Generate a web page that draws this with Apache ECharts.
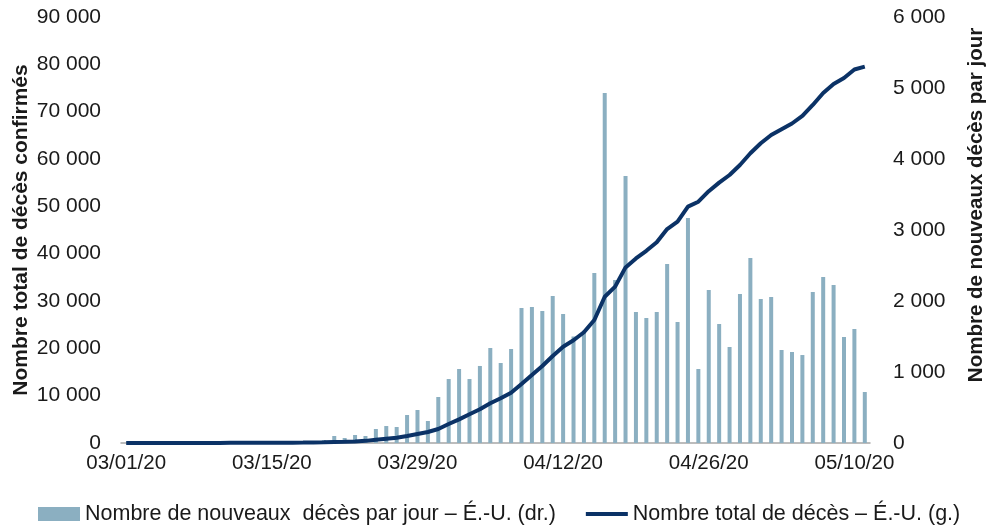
<!DOCTYPE html>
<html>
<head>
<meta charset="utf-8">
<script src="https://cdn.jsdelivr.net/npm/echarts@6/dist/echarts.min.js"></script>
<style>
html,body{margin:0;padding:0;background:#fff;}
#chart{width:1005px;height:532px;}
</style>
</head>
<body>
<div id="chart"></div>
<script>
const categories = [
'03/01/20','03/02/20','03/03/20','03/04/20','03/05/20','03/06/20','03/07/20','03/08/20','03/09/20','03/10/20',
'03/11/20','03/12/20','03/13/20','03/14/20','03/15/20','03/16/20','03/17/20','03/18/20','03/19/20','03/20/20',
'03/21/20','03/22/20','03/23/20','03/24/20','03/25/20','03/26/20','03/27/20','03/28/20','03/29/20','03/30/20',
'03/31/20','04/01/20','04/02/20','04/03/20','04/04/20','04/05/20','04/06/20','04/07/20','04/08/20','04/09/20',
'04/10/20','04/11/20','04/12/20','04/13/20','04/14/20','04/15/20','04/16/20','04/17/20','04/18/20','04/19/20',
'04/20/20','04/21/20','04/22/20','04/23/20','04/24/20','04/25/20','04/26/20','04/27/20','04/28/20','04/29/20',
'04/30/20','05/01/20','05/02/20','05/03/20','05/04/20','05/05/20','05/06/20','05/07/20','05/08/20','05/09/20',
'05/10/20','05/11/20'
];
// Nouveaux décès par jour (axe de droite)
const dailyDeaths = [
0,0,0,0,0,0,0,0,0,0,
1,2,3,5,7,8,12,18,25,40,
99,70,113,99,197,239,225,394,465,310,
648,901,1042,901,1085,1338,1127,1324,1901,1915,
1859,2070,1817,1500,1582,2394,4930,2296,3761,1845,
1761,1845,2521,1704,3169,1042,2155,1676,1352,2099,
2606,2028,2056,1310,1282,1239,2127,2338,2225,1493,
1606,718
];
// Nombre total de décès (axe de gauche)
const totalDeaths = [
1,1,6,9,11,12,15,19,22,26,
30,37,40,45,52,60,70,85,110,140,
200,250,330,450,680,900,1120,1480,1900,2320,
2960,4010,5000,6060,7120,8390,9440,10630,12470,14370,
16270,18380,20350,21700,23400,25990,30910,33030,37100,39000,
40600,42430,45200,46760,49930,50980,53200,55000,56620,58740,
61210,63320,65070,66300,67500,69090,71410,73950,75850,77120,
78910,79510
];
const leftTicks = {min:0, max:90000, interval:10000};
const rightTicks = {min:0, max:6000, interval:1000};
const seriesNames = ['Nombre de nouveaux  décès par jour – É.-U. (dr.)', 'Nombre total de décès – É.-U. (g.)'];

const fmt = v => String(v).replace(/\B(?=(\d{3})+(?!\d))/g, ' ');
const font = 'Liberation Sans, Arial, sans-serif';
const txt = '#1a1a1a';
const lineColor = '#0B3266';

const chart = echarts.init(document.getElementById('chart'));
chart.setOption({
  animation: false,
  textStyle: {fontFamily: font},
  grid: {left: 121, right: 135, top: 17, bottom: 89, containLabel: false, outerBoundsMode: 'none'},
  legend: {
    left: 33, top: 498,
    itemGap: 30, itemWidth: 42, itemHeight: 14,
    textStyle: {fontFamily: font, fontSize: 21.5, color: txt},
    data: [
      {name: seriesNames[0], icon: 'rect'},
      {name: seriesNames[1], icon: 'path://M0,0 L0,0 M0,5 L42,5 L42,9 L0,9 Z M42,14 L42,14'}
    ]
  },
  xAxis: {
    type: 'category',
    data: categories,
    boundaryGap: true,
    axisLine: {lineStyle: {color: '#a6a6a6', width: 1.5}},
    axisTick: {show: false},
    axisLabel: {interval: 13, fontSize: 20.5, color: txt, margin: 10, fontFamily: font}
  },
  yAxis: [
    {
      type: 'value', min: leftTicks.min, max: leftTicks.max, interval: leftTicks.interval,
      name: 'Nombre total de décès confirmés', nameLocation: 'middle', nameGap: 89, nameMoveOverlap: false,
      nameTextStyle: {fontSize: 21, fontWeight: 'bold', color: txt, fontFamily: font},
      axisLine: {show: false}, axisTick: {show: false}, splitLine: {show: false},
      axisLabel: {formatter: fmt, fontSize: 21, color: txt, margin: 20, fontFamily: font}
    },
    {
      type: 'value', min: rightTicks.min, max: rightTicks.max, interval: rightTicks.interval,
      name: 'Nombre de nouveaux décès par jour', nameLocation: 'middle', nameGap: 96, nameMoveOverlap: false,
      nameTextStyle: {fontSize: 20.5, fontWeight: 'bold', color: txt, fontFamily: font, padding: [0, 0, 0, 50]},
      axisLine: {show: false}, axisTick: {show: false}, splitLine: {show: false},
      axisLabel: {formatter: fmt, fontSize: 21, color: txt, margin: 23, fontFamily: font}
    }
  ],
  series: [
    {
      name: seriesNames[0], type: 'bar', yAxisIndex: 1, data: dailyDeaths,
      barWidth: 4, itemStyle: {color: '#8BAFC1'}
    },
    {
      name: seriesNames[1], type: 'line', yAxisIndex: 0, data: totalDeaths,
      symbol: 'none', smooth: false,
      lineStyle: {color: lineColor, width: 4}, itemStyle: {color: lineColor}
    }
  ]
});
</script>
</body>
</html>
